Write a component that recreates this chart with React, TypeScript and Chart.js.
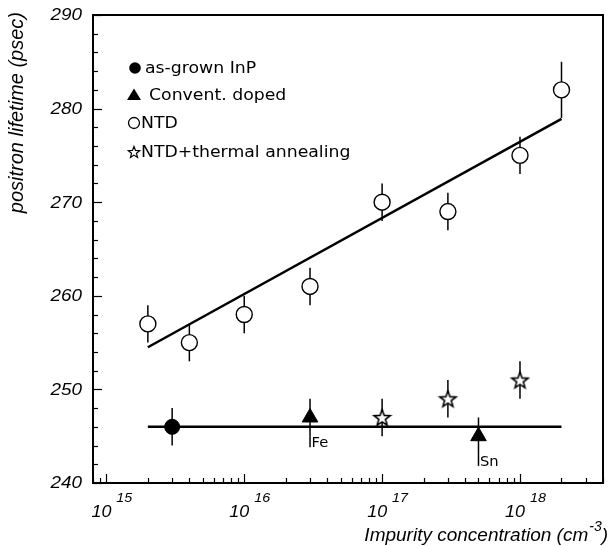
import React, { useEffect, useRef } from 'react';
import { Chart, registerables } from 'chart.js';

Chart.register(...registerables);

// ---------- data ----------
const fitConc = [2e15, 2e18];
const ntdFit = [254.5, 278.9];
const flatFit = [246, 246];

const asGrownConc = [3e15];
const asGrownLifetime = [246];
const asGrownErr = [2];

const dopedConc = [3e16, 5e17];
const dopedLifetime = [247, 245];
const dopedErr = [2, 2];
const dopedLabels = ['Fe', 'Sn'];

const ntdConc = [2e15, 4e15, 1e16, 3e16, 1e17, 3e17, 1e18, 2e18];
const ntdLifetime = [257, 255, 258, 261, 270, 269, 275, 282];
const ntdErr = [2, 2, 2, 2, 2, 2, 2, 3];

const annealConc = [1e17, 3e17, 1e18];
const annealLifetime = [247, 249, 251];
const annealErr = [2, 2, 2];

const xDecades = [15, 16, 17, 18];
const yTickValues = [240, 250, 260, 270, 280, 290];
const legendLabels = ['as-grown InP', 'Convent. doped', 'NTD', 'NTD+thermal annealing'];
const xTitle = 'Impurity concentration (cm';
const xTitleSup = '-3';
const yTitle = 'positron lifetime (psec)';

const toXY = (xs: number[], ys: number[]) => xs.map((x, i) => ({ x, y: ys[i] }));

function starPath(ctx: CanvasRenderingContext2D, cx: number, cy: number, R: number, r: number) {
  ctx.beginPath();
  for (let i = 0; i < 10; i++) {
    const rad = i % 2 === 0 ? R : r;
    const a = -Math.PI / 2 + (i * Math.PI) / 5;
    const px = cx + rad * Math.cos(a);
    const py = cy + rad * Math.sin(a);
    if (i === 0) ctx.moveTo(px, py);
    else ctx.lineTo(px, py);
  }
  ctx.closePath();
}

function makeStar(R: number) {
  const c = document.createElement('canvas');
  const s = Math.ceil(R * 2 + 4);
  c.width = s;
  c.height = s;
  const ctx = c.getContext('2d')!;
  starPath(ctx, s / 2, s / 2 + 0.8, R, R * 0.42);
  ctx.fillStyle = '#fff';
  ctx.fill();
  ctx.lineWidth = 1.6;
  ctx.lineJoin = 'miter';
  ctx.strokeStyle = '#000';
  ctx.stroke();
  return c;
}

const FONT = '"Liberation Sans", Arial, sans-serif';
const LEG_FONT = '"DejaVu Sans", sans-serif';

// draw text horizontally stretched by sx, anchored at (x, y) with given alignment
function sText(
  ctx: CanvasRenderingContext2D,
  text: string,
  x: number,
  y: number,
  sx: number,
  align: CanvasTextAlign,
) {
  ctx.save();
  ctx.translate(x, y);
  ctx.scale(sx, 1);
  ctx.textAlign = align;
  ctx.fillText(text, 0, 0);
  ctx.restore();
}

const overlay = {
  id: 'overlay',
  beforeDatasetsDraw(chart: any) {
    const ctx = chart.ctx;
    const ys = chart.scales.y;
    ctx.save();
    ctx.strokeStyle = '#000';
    ctx.lineWidth = 1.5;
    chart.data.datasets.forEach((ds: any, i: number) => {
      if (!ds.errors) return;
      const meta = chart.getDatasetMeta(i);
      meta.data.forEach((el: any, j: number) => {
        const v = ds.data[j].y;
        const e = ds.errors[j];
        ctx.beginPath();
        ctx.moveTo(el.x, ys.getPixelForValue(v + e));
        ctx.lineTo(el.x, ys.getPixelForValue(v - e));
        ctx.stroke();
        if (ds.pointLabels) {
          const yb = ys.getPixelForValue(v - e);
          ctx.beginPath();
          ctx.moveTo(el.x, yb);
          ctx.lineTo(el.x, yb + 11);
          ctx.stroke();
        }
      });
    });
    ctx.restore();
  },
  afterDraw(chart: any) {
    const ctx = chart.ctx;
    const { left, right, top, bottom } = chart.chartArea;
    const xs = chart.scales.x;
    const ys = chart.scales.y;
    ctx.save();
    ctx.strokeStyle = '#000';
    ctx.fillStyle = '#000';

    // point labels (Fe, Sn)
    chart.data.datasets.forEach((ds: any, i: number) => {
      if (!ds.pointLabels) return;
      const meta = chart.getDatasetMeta(i);
      meta.data.forEach((el: any, j: number) => {
        const yb = ys.getPixelForValue(ds.data[j].y - ds.errors[j]);
        ctx.font = `14px ${LEG_FONT}`;
        ctx.textBaseline = 'top';
        sText(ctx, ds.pointLabels[j], el.x + 1.5, yb, 1.05, 'left');
      });
    });

    // frame
    ctx.lineWidth = 2;
    ctx.strokeRect(left, top, right - left, bottom - top);

    // y ticks (inside)
    ctx.lineWidth = 1.2;
    for (let v = ys.min; v <= ys.max + 1e-6; v += 2) {
      const y = Math.round(ys.getPixelForValue(v)) + 0.5;
      const len = Math.abs(v % 10) < 1e-6 ? 9 : 5;
      ctx.beginPath();
      ctx.moveTo(left, y);
      ctx.lineTo(left + len, y);
      ctx.stroke();
    }
    // x ticks (inside)
    for (let d = 14; d <= 18; d++) {
      for (let m = 1; m <= 9; m++) {
        const v = m * Math.pow(10, d);
        if (v < xs.min || v > xs.max) continue;
        const x = Math.round(xs.getPixelForValue(v)) + 0.5;
        const len = m === 1 ? 9 : 5;
        ctx.beginPath();
        ctx.moveTo(x, bottom);
        ctx.lineTo(x, bottom - len);
        ctx.stroke();
      }
    }

    // y tick labels from the scale's ticks
    ctx.font = `italic 16px ${FONT}`;
    ctx.textBaseline = 'middle';
    ys.ticks.forEach((t: any, i: number) => {
      const y = ys.getPixelForTick(i);
      sText(ctx, String(t.value), 82, y + 1, 1.18, 'right');
    });

    // x tick labels 10^n from the scale's ticks
    ctx.textBaseline = 'alphabetic';
    xs.ticks.forEach((t: any, i: number) => {
      const x = xs.getPixelForTick(i);
      const d = Math.round(Math.log10(t.value));
      ctx.font = `italic 16px ${FONT}`;
      sText(ctx, '10', x + 5, 517, 1.12, 'right');
      ctx.font = `italic 13px ${FONT}`;
      sText(ctx, String(d), x + 10, 502, 1.1, 'left');
    });

    // x title
    ctx.font = `italic 14px ${FONT}`;
    const supW = ctx.measureText(xTitleSup).width;
    ctx.font = `italic 19px ${FONT}`;
    const parW = ctx.measureText(')').width;
    const endX = 608;
    ctx.textAlign = 'right';
    ctx.textBaseline = 'alphabetic';
    ctx.fillText(')', endX, 541);
    ctx.font = `italic 14px ${FONT}`;
    ctx.fillText(xTitleSup, endX - parW, 531);
    ctx.font = `italic 19px ${FONT}`;
    ctx.fillText(xTitle, endX - parW - supW - 1, 541);

    // y title
    ctx.save();
    ctx.translate(23, 12);
    ctx.rotate(-Math.PI / 2);
    ctx.font = `italic 20px ${FONT}`;
    ctx.textAlign = 'right';
    ctx.textBaseline = 'alphabetic';
    ctx.fillText(yTitle, 0, 0);
    ctx.restore();

    // legend
    const rows = [68, 95, 123, 152];
    const mx = 134;
    ctx.font = `16px ${LEG_FONT}`;
    ctx.textBaseline = 'middle';
    const lsx = 1.08;
    // filled circle
    ctx.beginPath();
    ctx.arc(mx + 1, rows[0], 5.8, 0, Math.PI * 2);
    ctx.fill();
    sText(ctx, legendLabels[0], 145, rows[0] + 1, lsx, 'left');
    // triangle
    ctx.beginPath();
    ctx.moveTo(mx, rows[1] - 6.5);
    ctx.lineTo(mx + 7, rows[1] + 5);
    ctx.lineTo(mx - 7, rows[1] + 5);
    ctx.closePath();
    ctx.fill();
    sText(ctx, legendLabels[1], 149, rows[1] + 1, lsx, 'left');
    // open circle
    ctx.lineWidth = 1.3;
    ctx.beginPath();
    ctx.arc(mx, rows[2], 5.5, 0, Math.PI * 2);
    ctx.stroke();
    sText(ctx, legendLabels[2], 141, rows[2] + 1, lsx, 'left');
    // star
    starPath(ctx, mx, rows[3] + 0.5, 6, 2.6);
    ctx.lineWidth = 1.2;
    ctx.stroke();
    sText(ctx, legendLabels[3], 141, rows[3] + 1, lsx, 'left');

    ctx.restore();
  },
};

export default function App() {
  const ref = useRef<HTMLCanvasElement>(null);
  useEffect(() => {
    document.body.style.margin = '0';
    const star = makeStar(8.5);
    const lineDs = (data: any[]) => ({
      type: 'line' as const,
      data,
      borderColor: '#000',
      borderWidth: 2.5,
      pointRadius: 0,
      fill: false,
    });
    const chart = new Chart(ref.current!, {
      type: 'scatter',
      data: {
        datasets: [
          lineDs(toXY(fitConc, ntdFit)),
          lineDs(toXY(fitConc, flatFit)),
          {
            data: toXY(asGrownConc, asGrownLifetime),
            errors: asGrownErr,
            pointStyle: 'circle',
            pointRadius: 7.5,
            backgroundColor: '#000',
            borderColor: '#000',
            borderWidth: 1,
          } as any,
          {
            data: toXY(dopedConc, dopedLifetime),
            errors: dopedErr,
            pointLabels: dopedLabels,
            pointStyle: 'triangle',
            pointRadius: 9,
            backgroundColor: '#000',
            borderColor: '#000',
            borderWidth: 1,
          } as any,
          {
            data: toXY(ntdConc, ntdLifetime),
            errors: ntdErr,
            pointStyle: 'circle',
            pointRadius: 8,
            backgroundColor: '#fff',
            borderColor: '#000',
            borderWidth: 1.4,
          } as any,
          {
            data: toXY(annealConc, annealLifetime),
            errors: annealErr,
            pointStyle: star,
            pointRadius: 8,
            backgroundColor: '#fff',
            borderColor: '#000',
          } as any,
        ],
      },
      options: {
        responsive: false,
        animation: false,
        events: [],
        layout: { padding: { top: 15, right: 10, left: 0, bottom: 0 } },
        plugins: { legend: { display: false }, tooltip: { enabled: false } },
        scales: {
          x: {
            type: 'logarithmic',
            min: 8e14,
            max: 4e18,
            afterBuildTicks: (s: any) => {
              s.ticks = xDecades.map((d) => ({ value: Math.pow(10, d) }));
            },
            ticks: { display: false },
            grid: { display: false, drawTicks: false },
            border: { display: false },
            afterFit: (s: any) => {
              s.height = 63;
            },
          },
          y: {
            type: 'linear',
            min: 240,
            max: 290,
            afterBuildTicks: (s: any) => {
              s.ticks = yTickValues.map((v) => ({ value: v }));
            },
            ticks: { display: false },
            grid: { display: false, drawTicks: false },
            border: { display: false },
            afterFit: (s: any) => {
              s.width = 93;
            },
          },
        },
      },
      plugins: [overlay],
    });
    return () => chart.destroy();
  }, []);
  return (
    <div style={{ width: 613, height: 546, background: '#fff' }}>
      <canvas ref={ref} width={613} height={546} style={{ display: 'block' }} />
    </div>
  );
}
